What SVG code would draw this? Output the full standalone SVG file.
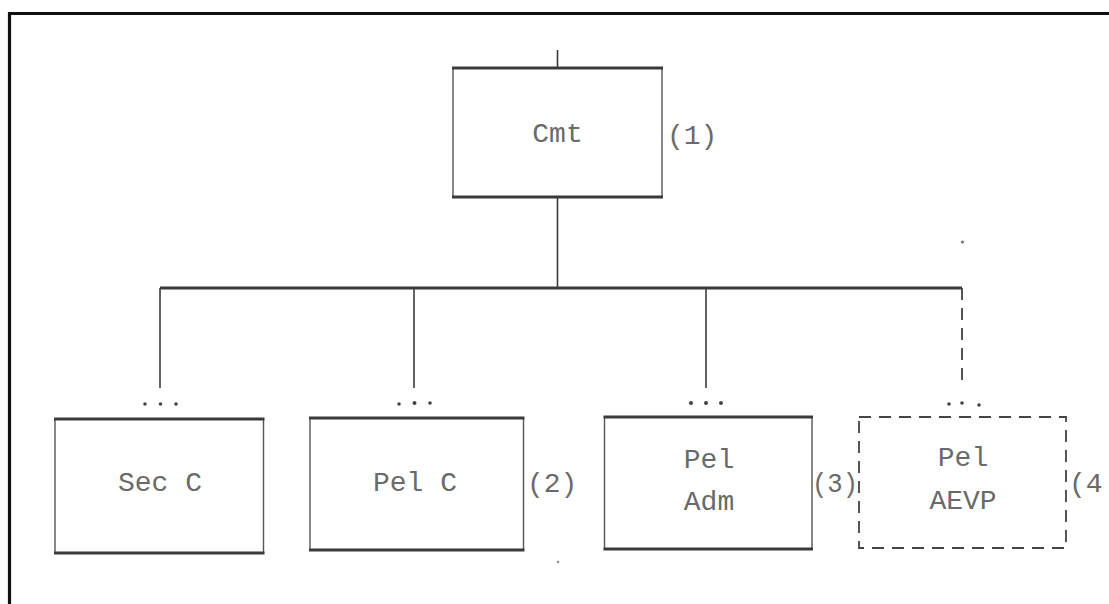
<svg xmlns="http://www.w3.org/2000/svg" width="1109" height="604" viewBox="0 0 1109 604">
<style>
.edge{stroke:#3a3a3a;stroke-width:1.6;fill:none}
.thick{stroke:#3a3a3a;stroke-width:3;fill:none}
.side{stroke:#555;stroke-width:1.4;fill:none}
.dash{stroke:#444;stroke-width:1.8;fill:none;stroke-dasharray:12 8}
.lbl{font-family:"Liberation Mono","DejaVu Sans Mono",monospace;font-size:28px;fill:#6a6a6a}
.mid{text-anchor:middle}
.dot{fill:#444}
</style>
<rect x="0" y="0" width="1109" height="604" fill="#ffffff"/>
<path d="M1112 13.5 H9.5 V610" stroke="#111" stroke-width="3.2" fill="none"/>
<g id="connectors">
  <line class="edge" x1="557.5" y1="50" x2="557.5" y2="68"/>
  <line class="edge" x1="557.5" y1="197" x2="557.5" y2="288"/>
  <line class="thick" x1="160" y1="288" x2="962" y2="288" stroke-width="2.4"/>
  <line class="edge" x1="160" y1="288" x2="160" y2="388"/>
  <line class="edge" x1="414" y1="288" x2="414" y2="388"/>
  <line class="edge" x1="706" y1="288" x2="706" y2="388"/>
  <line class="dash" x1="962" y1="288" x2="962" y2="388" stroke-dasharray="14 8"/>
  <g class="dot">
    <circle cx="145" cy="404" r="1.8"/><circle cx="160.5" cy="404" r="1.8"/><circle cx="176" cy="404" r="1.8"/>
    <circle cx="399" cy="404" r="1.8"/><circle cx="414.5" cy="403" r="2"/><circle cx="430" cy="403" r="1.8"/>
    <circle cx="691" cy="403" r="2"/><circle cx="706" cy="403" r="2"/><circle cx="721" cy="403" r="2"/>
    <circle cx="949" cy="404" r="1.8"/><circle cx="962" cy="403" r="1.8"/><circle cx="979" cy="405" r="1.8"/>
  </g>
</g>
<g id="node-cmt">
  <line class="side" x1="453" y1="68" x2="453" y2="197"/>
  <line class="side" x1="662" y1="68" x2="662" y2="197"/>
  <line class="thick" x1="452" y1="68" x2="663" y2="68"/>
  <line class="thick" x1="452" y1="197" x2="663" y2="197"/>
  <text class="lbl mid" x="557.5" y="142">Cmt</text>
  <text class="lbl" x="667" y="144">(1)</text>
</g>
<g id="node-secc">
  <line class="side" x1="55" y1="419" x2="55" y2="553"/>
  <line class="side" x1="263.5" y1="419" x2="263.5" y2="553"/>
  <line class="thick" x1="54" y1="419" x2="264.5" y2="419"/>
  <line class="thick" x1="54" y1="553" x2="264.5" y2="553"/>
  <text class="lbl mid" x="160" y="491">Sec C</text>
</g>
<g id="node-pelc">
  <line class="side" x1="310" y1="418" x2="310" y2="550"/>
  <line class="side" x1="523.5" y1="418" x2="523.5" y2="550"/>
  <line class="thick" x1="309" y1="418" x2="524.5" y2="418"/>
  <line class="thick" x1="309" y1="550" x2="524.5" y2="550"/>
  <text class="lbl mid" x="415" y="491">Pel C</text>
  <text class="lbl" x="527" y="492">(2)</text>
</g>
<g id="node-peladm">
  <line class="side" x1="604.5" y1="417" x2="604.5" y2="549"/>
  <line class="side" x1="812" y1="417" x2="812" y2="549"/>
  <line class="thick" x1="603.5" y1="417" x2="813" y2="417"/>
  <line class="thick" x1="603.5" y1="549" x2="813" y2="549"/>
  <text class="lbl mid" x="709" y="468">Pel</text>
  <text class="lbl mid" x="709" y="510">Adm</text>
  <text class="lbl" x="812" y="492" textLength="46" lengthAdjust="spacingAndGlyphs">(3)</text>
</g>
<g id="node-pelaevp">
  <rect class="dash" x="859" y="417" width="207" height="131"/>
  <text class="lbl mid" x="963" y="466">Pel</text>
  <text class="lbl mid" x="963" y="509">AEVP</text>
  <text class="lbl" x="1069" y="492">(4</text>
</g>
<circle cx="962.5" cy="242" r="1.6" fill="#777"/>
<circle cx="558" cy="562" r="1.2" fill="#888"/>
</svg>
